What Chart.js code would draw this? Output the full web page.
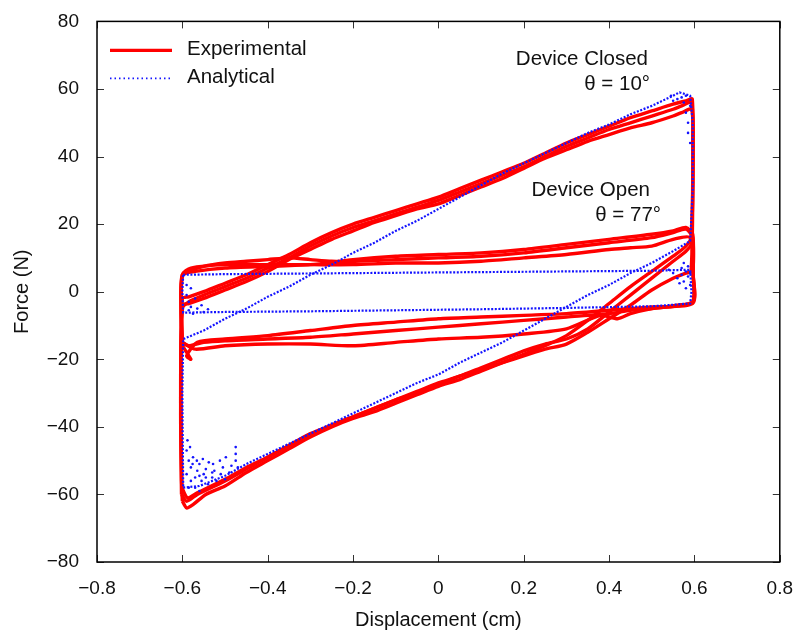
<!DOCTYPE html>
<html>
<head>
<meta charset="utf-8">
<script src="https://cdn.jsdelivr.net/npm/chart.js@4.4.0/dist/chart.umd.min.js"></script>
<style>
  html, body { margin: 0; padding: 0; background: #fff; }
</style>
</head>
<body>
<canvas id="chart" width="800" height="632"></canvas>
<script>
// ---------- Axis ranges / ticks ----------
const xTicks = [-0.8, -0.6, -0.4, -0.2, 0, 0.2, 0.4, 0.6, 0.8];
const yTicks = [-80, -60, -40, -20, 0, 20, 40, 60, 80];

// ---------- Experimental, device closed (theta = 10 deg), one array per cycle ----------
const closedRun1 = [
  [-0.6, -62], [-0.59, -64], [-0.575, -63], [-0.545, -60], [-0.5, -57.5], [-0.45, -53.5], [-0.4, -50],
  [-0.35, -46.5], [-0.3, -43], [-0.25, -40], [-0.2, -37.5], [-0.15, -35.5], [-0.1, -33], [-0.05, -30.5],
  [0, -28], [0.05, -26], [0.1, -23.5], [0.15, -21], [0.2, -18.5], [0.25, -16], [0.3, -13], [0.35, -8.5],
  [0.4, -3.5], [0.45, 1.5], [0.5, 6], [0.55, 10.5], [0.58, 13.5], [0.592, 16], [0.596, 30], [0.596, 45],
  [0.593, 56], [0.57, 55], [0.55, 54], [0.5, 52], [0.45, 50], [0.4, 48], [0.35, 45.5], [0.3, 43],
  [0.25, 40], [0.2, 37], [0.15, 34.5], [0.1, 32], [0.05, 29.5], [0, 27], [-0.05, 25], [-0.1, 23],
  [-0.15, 21], [-0.2, 19], [-0.25, 16.5], [-0.3, 13.5], [-0.35, 10], [-0.4, 7], [-0.45, 4], [-0.5, 1.5],
  [-0.55, -1], [-0.585, -3], [-0.6, -5], [-0.603, -30], [-0.602, -55], [-0.6, -62]
];
const closedRun2 = [
  [-0.602, -60], [-0.59, -62], [-0.565, -60], [-0.5, -56], [-0.45, -52.5], [-0.4, -49], [-0.35, -45.5],
  [-0.3, -42], [-0.25, -39.5], [-0.2, -37], [-0.15, -34.5], [-0.1, -32], [-0.05, -29.5], [0, -27],
  [0.05, -25], [0.1, -22.5], [0.15, -20], [0.2, -17.5], [0.25, -15.5], [0.3, -14], [0.35, -11],
  [0.4, -6], [0.45, -1], [0.5, 4], [0.55, 9], [0.58, 12], [0.592, 14], [0.596, 35], [0.594, 54],
  [0.57, 53], [0.55, 52], [0.5, 50], [0.45, 48.5], [0.4, 46.5], [0.35, 44.5], [0.3, 42], [0.25, 39.5],
  [0.2, 36.5], [0.15, 33.5], [0.1, 31], [0.05, 28.5], [0, 26], [-0.05, 24.5], [-0.1, 22.5], [-0.15, 20.5],
  [-0.2, 18], [-0.25, 15.5], [-0.3, 12.5], [-0.35, 9.5], [-0.4, 6], [-0.45, 3], [-0.5, 0.5],
  [-0.55, -2], [-0.585, -3.5], [-0.6, -4], [-0.604, -35], [-0.602, -60]
];
const closedRun3 = [
  [-0.601, -58], [-0.588, -61], [-0.565, -59.5], [-0.5, -55.5], [-0.45, -52], [-0.4, -49], [-0.35, -45.5],
  [-0.3, -42.5], [-0.25, -39.5], [-0.2, -37], [-0.15, -34.5], [-0.1, -32], [-0.05, -30], [0, -27.5],
  [0.05, -25], [0.1, -23], [0.15, -21], [0.2, -19], [0.25, -17], [0.3, -15.5], [0.35, -12], [0.4, -8],
  [0.45, -4], [0.5, 0.5], [0.55, 4], [0.58, 5.5], [0.592, 6], [0.596, 30], [0.595, 57], [0.58, 56.5],
  [0.55, 55.5], [0.5, 53.5], [0.45, 51.5], [0.4, 49], [0.35, 46.5], [0.3, 44], [0.25, 41], [0.2, 38],
  [0.15, 35.5], [0.1, 33], [0.05, 30.5], [0, 28], [-0.05, 26], [-0.1, 24], [-0.15, 22], [-0.2, 20],
  [-0.25, 17.5], [-0.3, 14.5], [-0.35, 11], [-0.4, 8], [-0.45, 5], [-0.5, 2.5], [-0.55, 0],
  [-0.585, -1.5], [-0.6, -2], [-0.604, -30], [-0.601, -58]
];

// ---------- Experimental, device open (theta = 77 deg) ----------
const openRun1 = [
  [-0.6, -15], [-0.603, -5], [-0.6, 4.5], [-0.585, 6], [-0.55, 7.5], [-0.5, 8.5], [-0.45, 9], [-0.4, 9.5],
  [-0.35, 10], [-0.3, 9.5], [-0.25, 9], [-0.2, 9], [-0.1, 9.5], [0, 10], [0.1, 10.5], [0.2, 11.5],
  [0.3, 13], [0.4, 14.5], [0.5, 16], [0.55, 17.5], [0.58, 18.5], [0.596, 16], [0.597, 5], [0.596, -3],
  [0.56, -4], [0.5, -5], [0.45, -5.5], [0.4, -6.5], [0.3, -7.5], [0.2, -8.5], [0.1, -9.5], [0, -10.5],
  [-0.1, -11.5], [-0.2, -12.5], [-0.3, -13.5], [-0.4, -14], [-0.5, -14.5], [-0.55, -15], [-0.585, -16],
  [-0.6, -15]
];
const openRun2 = [
  [-0.6, -16], [-0.603, -5], [-0.6, 5], [-0.58, 7], [-0.5, 8], [-0.4, 8], [-0.3, 8], [-0.2, 8],
  [-0.1, 8.5], [0, 8.5], [0.1, 9], [0.2, 10], [0.3, 11], [0.4, 12.5], [0.45, 13], [0.5, 13.5],
  [0.55, 15.5], [0.59, 16], [0.597, 5], [0.596, -3.5], [0.5, -4.5], [0.4, -5.5], [0.3, -6.5],
  [0.2, -7], [0.1, -7.5], [0, -8], [-0.1, -9], [-0.2, -10], [-0.3, -11.5], [-0.4, -13], [-0.5, -14],
  [-0.565, -15], [-0.59, -19], [-0.58, -20], [-0.6, -16]
];
const openRun3 = [
  [-0.6, -15], [-0.603, -5], [-0.6, 5], [-0.57, 6], [-0.5, 7], [-0.4, 7.5], [-0.3, 8], [-0.2, 9.5],
  [-0.1, 10.5], [0, 11], [0.1, 11.5], [0.2, 12.5], [0.3, 14], [0.4, 15.5], [0.5, 17], [0.55, 18],
  [0.58, 19], [0.596, 17], [0.597, 5], [0.596, -3], [0.5, -5], [0.45, -6.5], [0.42, -8], [0.38, -7],
  [0.3, -11], [0.2, -12.5], [0.1, -13.5], [0, -14], [-0.1, -15], [-0.2, -16], [-0.3, -15.5],
  [-0.4, -15.5], [-0.5, -16], [-0.57, -17], [-0.6, -15]
];

// ---------- Analytical ----------
const modelClosed = [
  [-0.598, -58], [-0.56, -57.5], [-0.5, -54.5], [-0.45, -51], [-0.4, -48], [-0.35, -45], [-0.3, -42],
  [-0.25, -39], [-0.2, -36], [-0.15, -33], [-0.1, -30], [-0.05, -27], [0, -24.5], [0.05, -21],
  [0.1, -18], [0.15, -15], [0.2, -11.5], [0.25, -8], [0.3, -4.5], [0.35, -1], [0.4, 2], [0.45, 5.5],
  [0.5, 8.5], [0.55, 12], [0.59, 15], [0.596, 30], [0.596, 50], [0.59, 58], [0.565, 59], [0.55, 58],
  [0.5, 55], [0.45, 52.5], [0.4, 49.5], [0.35, 47], [0.3, 44], [0.25, 41], [0.2, 38], [0.15, 35],
  [0.1, 31.5], [0.05, 28], [0, 24.5], [-0.05, 21], [-0.1, 18], [-0.15, 14.5], [-0.2, 11.5], [-0.25, 8],
  [-0.3, 5], [-0.35, 1.5], [-0.4, -1.5], [-0.45, -5], [-0.5, -8], [-0.55, -11.5], [-0.598, -14],
  [-0.6, -30], [-0.599, -45], [-0.598, -58]
];
const modelOpen = [
  [-0.598, 5], [-0.5, 5.2], [-0.3, 5.4], [-0.1, 5.6], [0.1, 5.8], [0.3, 6], [0.5, 6.2], [0.59, 6.5],
  [0.593, 0], [0.59, -3.5], [0.5, -4.3], [0.3, -4.8], [0.1, -5.2], [-0.1, -5.5], [-0.3, -5.8],
  [-0.5, -6], [-0.598, -6.2], [-0.6, 0], [-0.598, 5]
];
// scattered solver points near the turning corners
const modelScatter = [
  [-0.59, -47], [-0.585, -50], [-0.58, -52], [-0.575, -49], [-0.57, -55], [-0.565, -53], [-0.56, -51],
  [-0.555, -56], [-0.55, -54], [-0.545, -52.5], [-0.54, -57], [-0.53, -55], [-0.525, -53], [-0.52, -56],
  [-0.51, -54], [-0.505, -52], [-0.5, -55.5], [-0.49, -53.5], [-0.485, -51.5], [-0.475, -46], [-0.475, -48],
  [-0.475, -50], [-0.47, -52], [-0.585, -58], [-0.58, -56], [-0.59, -54], [-0.57, -58], [-0.56, -59],
  [-0.588, -44], [-0.582, -46], [-0.576, -51], [-0.566, -50], [-0.552, -49.5], [-0.538, -50.5],
  [-0.528, -51], [-0.512, -50], [-0.498, -49], [-0.56, -54.5], [-0.545, -55], [-0.53, -53.5],
  [0.575, 56], [0.58, 53], [0.585, 50], [0.57, 57.5], [0.58, 58], [0.59, 55], [0.585, 47], [0.59, 44],
  [0.56, 57], [0.55, 56.5], [0.545, 58],
  [0.56, 4], [0.57, 5], [0.575, 3], [0.58, 6], [0.585, 4.5], [0.59, 2], [0.55, 5.5], [0.565, 2.5],
  [0.58, 1], [0.57, 7], [0.54, 6.5], [0.585, 7.5], [0.575, 8.5], [0.59, 5.5],
  [-0.59, -1], [-0.585, -3], [-0.58, -4.5], [-0.57, -2], [-0.565, -5], [-0.555, -4], [-0.585, -5.5],
  [-0.575, -6.5], [-0.55, -6], [-0.54, -5.2], [-0.59, 2], [-0.58, 1]
];

const FONT = '"Liberation Sans", Arial, Helvetica, sans-serif';
const RED = '#ff0000';
const BLUE = '#1414ff';

const toPts = (arr) => arr.map(([x, y]) => ({ x, y }));
const fmt = (v) => String(Number(v.toFixed(1))).replace('-', '\u2212');

const expSet = (arr) => ({
  data: toPts(arr), showLine: true, borderColor: RED, borderWidth: 3.4,
  pointRadius: 0, tension: 0.25, order: 1
});
const modelSet = (arr) => ({
  data: toPts(arr), showLine: true, borderColor: BLUE, borderWidth: 2.2,
  borderDash: [2, 1.6], pointRadius: 0, tension: 0, order: 0
});

// frame with inward ticks, legend and the two device labels
const decorations = {
  id: 'decorations',
  afterDatasetsDraw(chart) {
    const { ctx, chartArea: a, scales: { x, y } } = chart;
    ctx.save();
    ctx.strokeStyle = '#333';
    ctx.lineWidth = 1;
    ctx.beginPath();
    xTicks.forEach((t) => {
      const px = Math.round(x.getPixelForValue(t)) + 0.5;
      ctx.moveTo(px, a.bottom); ctx.lineTo(px, a.bottom - 7);
      ctx.moveTo(px, a.top); ctx.lineTo(px, a.top + 7);
    });
    yTicks.forEach((t) => {
      const py = Math.round(y.getPixelForValue(t)) + 0.5;
      ctx.moveTo(a.left, py); ctx.lineTo(a.left + 7, py);
      ctx.moveTo(a.right, py); ctx.lineTo(a.right - 7, py);
    });
    ctx.stroke();
    ctx.strokeStyle = '#000';
    ctx.lineWidth = 1.5;
    ctx.strokeRect(a.left, a.top, a.right - a.left, a.bottom - a.top);

    // legend
    ctx.lineWidth = 3.4;
    ctx.strokeStyle = RED;
    ctx.beginPath(); ctx.moveTo(a.left + 13, a.top + 29); ctx.lineTo(a.left + 75, a.top + 29); ctx.stroke();
    ctx.lineWidth = 1.6;
    ctx.strokeStyle = BLUE;
    ctx.setLineDash([1.5, 3]);
    ctx.beginPath(); ctx.moveTo(a.left + 13, a.top + 57); ctx.lineTo(a.left + 75, a.top + 57); ctx.stroke();
    ctx.setLineDash([]);
    ctx.fillStyle = '#111';
    ctx.font = '20.5px ' + FONT;
    ctx.textBaseline = 'middle';
    ctx.textAlign = 'left';
    ctx.fillText('Experimental', a.left + 90, a.top + 28);
    ctx.fillText('Analytical', a.left + 90, a.top + 56);

    // device labels
    ctx.textAlign = 'right';
    ctx.fillText('Device Closed', 648, 59);
    ctx.fillText('\u03b8 = 10\u00b0', 650, 84);
    ctx.fillText('Device Open', 650, 190);
    ctx.fillText('\u03b8 = 77\u00b0', 661, 215);
    ctx.restore();
  }
};

new Chart(document.getElementById('chart'), {
  type: 'scatter',
  data: {
    datasets: [
      expSet(closedRun1), expSet(closedRun2), expSet(closedRun3),
      expSet(openRun1), expSet(openRun2), expSet(openRun3),
      modelSet(modelClosed), modelSet(modelOpen),
      { data: toPts(modelScatter), pointRadius: 1.3, pointBackgroundColor: BLUE, pointBorderWidth: 0, order: 0 }
    ]
  },
  options: {
    responsive: false,
    animation: false,
    layout: { padding: { top: 16, right: 18, left: 0, bottom: 0 } },
    plugins: { legend: { display: false }, tooltip: { enabled: false } },
    scales: {
      x: {
        type: 'linear', min: -0.8, max: 0.8,
        grid: { display: false }, border: { display: false },
        ticks: { stepSize: 0.2, padding: 7, color: '#111', font: { family: FONT, size: 19 }, callback: fmt },
        title: { display: true, text: 'Displacement (cm)', color: '#111', font: { family: FONT, size: 20 }, padding: { top: 3, bottom: 0 } },
        afterFit: (s) => { s.height = 70; }
      },
      y: {
        type: 'linear', min: -80, max: 80,
        grid: { display: false }, border: { display: false },
        ticks: { stepSize: 20, padding: 10, color: '#111', font: { family: FONT, size: 19 }, callback: fmt },
        title: { display: true, text: 'Force (N)', color: '#111', font: { family: FONT, size: 20 }, padding: { top: 10, bottom: 0 } },
        afterFit: (s) => { s.width = 97; }
      }
    }
  },
  plugins: [decorations]
});
</script>
</body>
</html>
